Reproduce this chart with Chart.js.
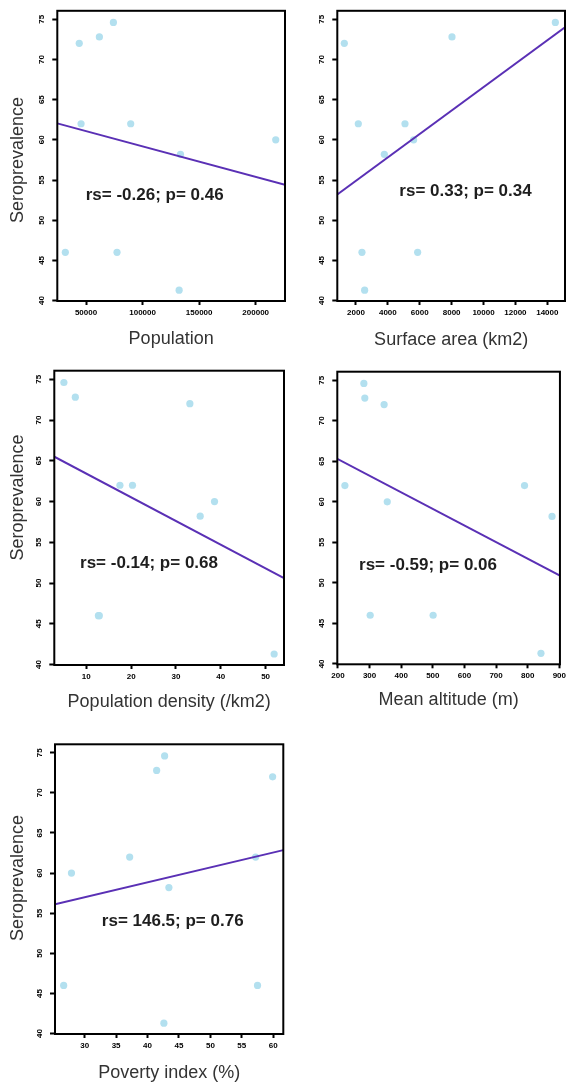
<!DOCTYPE html>
<html>
<head>
<meta charset="utf-8">
<script src="https://cdn.jsdelivr.net/npm/chart.js@4/dist/chart.umd.min.js"></script>
<style>
  html, body { margin: 0; padding: 0; background: #ffffff; }
  body { width: 569px; height: 1085px; position: relative; overflow: hidden; }
  canvas { position: absolute; display: block; }
</style>
</head>
<body>
<canvas id="c1"></canvas>
<canvas id="c2"></canvas>
<canvas id="c3"></canvas>
<canvas id="c4"></canvas>
<canvas id="c5"></canvas>
<script>
// ---------------- DATA ----------------
const yTitle = "Seroprevalence";
const yTicks = [40, 45, 50, 55, 60, 65, 70, 75];
const yRange = [39.95, 76.05];

// Panel 1 – Population
const popTitle = "Population";
const popX = [31700, 44000, 45600, 61800, 74200, 77400, 89500, 132300, 133500, 217700];
const popY = [46.0, 72.0, 62.0, 72.8, 74.6, 46.0, 62.0, 41.3, 58.2, 60.0];
const popTicks = [50000, 100000, 150000, 200000];
const popRange = [24600, 225900];
const popLineX = [24600, 225900];
const popLineY = [62.05, 54.4];
const popStat = "rs= -0.26; p= 0.46";

// Panel 2 – Surface area
const areaTitle = "Surface area (km2)";
const areaX = [1268, 2146, 2376, 2544, 3777, 5073, 5617, 5868, 8021, 14502];
const areaY = [72.0, 62.0, 46.0, 41.3, 58.2, 62.0, 60.0, 46.0, 72.8, 74.6];
const areaTicks = [2000, 4000, 6000, 8000, 10000, 12000, 14000];
const areaRange = [829, 15108];
const areaLineX = [829, 15108];
const areaLineY = [53.2, 74.0];
const areaStat = "rs= 0.33; p= 0.34";

// Panel 3 – Population density
const densTitle = "Population density (/km2)";
const densX = [5.0, 7.55, 12.7, 12.9, 17.5, 20.3, 33.1, 35.4, 38.6, 51.9];
const densY = [74.6, 72.8, 46.0, 46.0, 62.0, 62.0, 72.0, 58.2, 60.0, 41.3];
const densTicks = [10, 20, 30, 40, 50];
const densRange = [2.86, 54.1];
const densLineX = [2.86, 54.1];
const densLineY = [65.5, 50.6];
const densStat = "rs= -0.14; p= 0.68";

// Panel 4 – Mean altitude
const altTitle = "Mean altitude (m)";
const altX = [222, 282, 285, 302, 346, 356, 501, 790, 842, 877];
const altY = [62.0, 74.6, 72.8, 46.0, 72.0, 60.0, 46.0, 62.0, 41.3, 58.2];
const altTicks = [200, 300, 400, 500, 600, 700, 800, 900];
const altRange = [198, 902];
const altLineX = [198, 902];
const altLineY = [65.3, 50.9];
const altStat = "rs= -0.59; p= 0.06";

// Panel 5 – Poverty index
const povTitle = "Poverty index (%)";
const povX = [26.66, 27.9, 37.16, 41.45, 42.6, 42.72, 43.4, 57.2, 57.5, 59.9];
const povY = [46.0, 60.0, 62.0, 72.8, 41.3, 74.6, 58.2, 62.0, 46.0, 72.0];
const povTicks = [30, 35, 40, 45, 50, 55, 60];
const povRange = [25.28, 61.6];
const povLineX = [25.28, 61.6];
const povLineY = [56.1, 62.86];
const povStat = "rs= 146.5; p= 0.76";

// ---------------- STYLE / LAYOUT ----------------
const FONT = "'Liberation Sans', Arial, Helvetica, sans-serif";
const POINT_COLOR = "#b3e0ef";
const LINE_COLOR = "#5a30b5";

// canvas box, padding, axis sizes, stat text centre and y-title centre (canvas-relative)
const layouts = [
  { id: "c1", cx: 0,   cy: 0,   cw: 290, ch: 355, pad: {left: 7.5, right: 5,   top: 8.3,  bottom: 5.2}, yw: 57.3, xh: 48.8, yTitlePos: [18.3, 160],   stat: [154.7, 195] },
  { id: "c2", cx: 290, cy: 0,   cw: 279, ch: 355, pad: {left: 0,   right: 4,   top: 8.3,  bottom: 4.2}, yw: 47.3, xh: 49.8, yTitlePos: null,          stat: [175.5, 191.7] },
  { id: "c3", cx: 0,   cy: 355, cw: 290, ch: 365, pad: {left: 0,   right: 6,   top: 15.7, bottom: 7.5}, yw: 54.3, xh: 47.5, yTitlePos: [18.3, 142.5], stat: [149, 208.3] },
  { id: "c4", cx: 290, cy: 355, cw: 279, ch: 365, pad: {left: 0,   right: 5.7, top: 16.7, bottom: 9.2}, yw: 47.3, xh: 46.5, yTitlePos: null,          stat: [138, 210] },
  { id: "c5", cx: 0,   cy: 720, cw: 290, ch: 365, pad: {left: 0,   right: 6.7, top: 24.3, bottom: 1.2}, yw: 55,   xh: 49.8, yTitlePos: [18.3, 158],   stat: [172.7, 201.7] }
];
// P1 left padding folded into axis width
layouts[0].pad.left = 0;

const panels = [
  { x: popX,  y: popY,  ticks: popTicks,  range: popRange,  lx: popLineX,  ly: popLineY,  title: popTitle,  stat: popStat },
  { x: areaX, y: areaY, ticks: areaTicks, range: areaRange, lx: areaLineX, ly: areaLineY, title: areaTitle, stat: areaStat },
  { x: densX, y: densY, ticks: densTicks, range: densRange, lx: densLineX, ly: densLineY, title: densTitle, stat: densStat },
  { x: altX,  y: altY,  ticks: altTicks,  range: altRange,  lx: altLineX,  ly: altLineY,  title: altTitle,  stat: altStat },
  { x: povX,  y: povY,  ticks: povTicks,  range: povRange,  lx: povLineX,  ly: povLineY,  title: povTitle,  stat: povStat }
];

const boxPlugin = {
  id: "box",
  afterDatasetsDraw(chart) {
    const a = chart.chartArea, ctx = chart.ctx;
    ctx.save();
    ctx.strokeStyle = "#000";
    ctx.lineWidth = 2;
    ctx.strokeRect(a.left, a.top, a.right - a.left, a.bottom - a.top);
    ctx.restore();
  }
};

const textPlugin = {
  id: "texts",
  afterDraw(chart, args, opts) {
    const ctx = chart.ctx;
    ctx.save();
    ctx.font = "bold 17px " + FONT;
    ctx.fillStyle = "#1e1e1e";
    ctx.textAlign = "center";
    ctx.textBaseline = "middle";
    ctx.fillText(opts.stat, opts.statX, opts.statY);
    if (opts.yPos) {
      ctx.font = "18px " + FONT;
      ctx.fillStyle = "#333";
      ctx.translate(opts.yPos[0], opts.yPos[1]);
      ctx.rotate(-Math.PI / 2);
      ctx.fillText(opts.yText, 0, 0);
    }
    ctx.restore();
  }
};

Chart.defaults.font.family = FONT;
Chart.defaults.animation = false;

panels.forEach((p, i) => {
  const L = layouts[i];
  const cv = document.getElementById(L.id);
  cv.width = L.cw; cv.height = L.ch;
  cv.style.left = L.cx + "px"; cv.style.top = L.cy + "px";
  cv.style.width = L.cw + "px"; cv.style.height = L.ch + "px";

  const pts = p.x.map((v, k) => ({ x: v, y: p.y[k] }));
  const line = p.lx.map((v, k) => ({ x: v, y: p.ly[k] }));

  new Chart(cv, {
    type: "scatter",
    data: {
      datasets: [
        { type: "scatter", data: pts, pointRadius: 3.6, pointHoverRadius: 3.6,
          backgroundColor: POINT_COLOR, borderColor: POINT_COLOR, borderWidth: 0, order: 2 },
        { type: "line", data: line, borderColor: LINE_COLOR, borderWidth: 2,
          pointRadius: 0, fill: false, tension: 0, order: 1 }
      ]
    },
    options: {
      responsive: false,
      animation: false,
      events: [],
      layout: { padding: L.pad },
      plugins: {
        legend: { display: false },
        tooltip: { enabled: false },
        texts: { stat: p.stat, statX: L.stat[0], statY: L.stat[1], yPos: L.yTitlePos, yText: yTitle }
      },
      scales: {
        x: {
          type: "linear", min: p.range[0], max: p.range[1],
          afterBuildTicks: s => { s.ticks = p.ticks.map(v => ({ value: v })); },
          afterFit: s => { s.height = L.xh; },
          ticks: { autoSkip: false, maxRotation: 0, minRotation: 0, padding: 3,
                   color: "#000", font: { size: 8, weight: "bold" },
                   callback: v => String(v) },
          grid: { drawOnChartArea: false, drawTicks: true, tickLength: 4, tickWidth: 2, tickColor: "#000" },
          border: { display: false },
          title: { display: true, text: p.title, color: "#333", padding: 0,
                   font: { size: 18, weight: "normal" } }
        },
        y: {
          type: "linear", min: yRange[0], max: yRange[1],
          afterBuildTicks: s => { s.ticks = yTicks.map(v => ({ value: v })); },
          afterFit: s => { s.width = L.yw; },
          ticks: { autoSkip: false, minRotation: 90, maxRotation: 90, padding: 6,
                   crossAlign: "center",
                   color: "#000", font: { size: 8, weight: "bold" },
                   callback: v => String(v) },
          grid: { drawOnChartArea: false, drawTicks: true, tickLength: 5, tickWidth: 2, tickColor: "#000" },
          border: { display: false },
          title: { display: false }
        }
      }
    },
    plugins: [boxPlugin, textPlugin]
  });
});
</script>
</body>
</html>
